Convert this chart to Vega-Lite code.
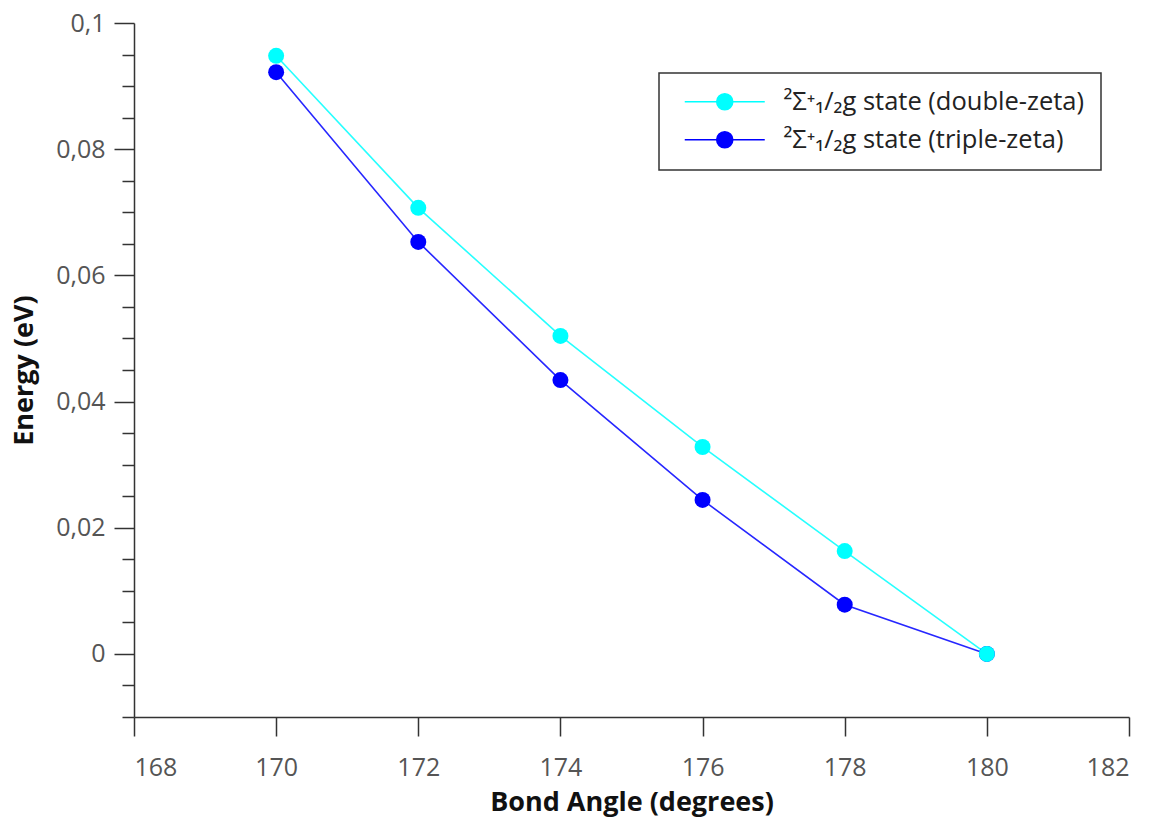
{
  "$schema": "https://vega.github.io/schema/vega-lite/v6.json",
  "autosize": {"type": "none"},
  "width": 995,
  "height": 694,
  "padding": {"left": 134, "top": 23, "right": 29, "bottom": 104},
  "background": "white",
  "config": {
    "view": {"stroke": null},
    "font": "Open Sans",
    "axis": {
      "labelFont": "Open Sans",
      "labelFontSize": 25,
      "labelColor": "#555555",
      "titleFont": "Open Sans",
      "titleFontSize": 27,
      "titleFontWeight": "bold",
      "titleColor": "#111111",
      "domainColor": "#333333",
      "domainWidth": 1.5,
      "tickColor": "#333333",
      "tickWidth": 1.5,
      "grid": false
    },
    "legend": {
      "labelFont": "Open Sans",
      "labelFontSize": 25.5,
      "labelColor": "#222222",
      "labelLimit": 400,
      "strokeWidth": 1.5
    }
  },
  "data": {
    "values": [
      {"angle": 170, "energy": 0.0948, "series": "²Σ⁺₁/₂g state (double-zeta)"},
      {"angle": 172, "energy": 0.0707, "series": "²Σ⁺₁/₂g state (double-zeta)"},
      {"angle": 174, "energy": 0.0504, "series": "²Σ⁺₁/₂g state (double-zeta)"},
      {"angle": 176, "energy": 0.0328, "series": "²Σ⁺₁/₂g state (double-zeta)"},
      {"angle": 178, "energy": 0.0163, "series": "²Σ⁺₁/₂g state (double-zeta)"},
      {"angle": 170, "energy": 0.0922, "series": "²Σ⁺₁/₂g state (triple-zeta)"},
      {"angle": 172, "energy": 0.0653, "series": "²Σ⁺₁/₂g state (triple-zeta)"},
      {"angle": 174, "energy": 0.0434, "series": "²Σ⁺₁/₂g state (triple-zeta)"},
      {"angle": 176, "energy": 0.0244, "series": "²Σ⁺₁/₂g state (triple-zeta)"},
      {"angle": 178, "energy": 0.0078, "series": "²Σ⁺₁/₂g state (triple-zeta)"},
      {"angle": 180, "energy": 0.0, "series": "²Σ⁺₁/₂g state (triple-zeta)"},
      {"angle": 180, "energy": 0.0, "series": "²Σ⁺₁/₂g state (double-zeta)"}
    ]
  },
  "resolve": {"axis": {"y": "independent"}},
  "layer": [
    {
      "mark": {"type": "line", "strokeWidth": 1.6, "strokeOpacity": 0.85},
      "encoding": {
        "x": {
          "field": "angle", "type": "quantitative",
          "scale": {"domain": [168, 182], "nice": false, "zero": false},
          "axis": {
            "values": [168, 170, 172, 174, 176, 178, 180, 182],
            "format": "d",
            "tickSize": 19, "labelPadding": 19,
            "title": "Bond Angle (degrees)", "titlePadding": 9
          }
        },
        "y": {
          "field": "energy", "type": "quantitative",
          "scale": {"domain": [-0.01, 0.1], "nice": false, "zero": false},
          "axis": {
            "orient": "left",
            "values": [0, 0.02, 0.04, 0.06, 0.08, 0.1],
            "labelExpr": "replace(format(datum.value, '~g'), '.', ',')",
            "tickSize": 20, "labelPadding": 9,
            "title": "Energy (eV)", "titlePadding": 17
          }
        },
        "color": {
          "field": "series", "type": "nominal",
          "scale": {
            "domain": ["²Σ⁺₁/₂g state (double-zeta)", "²Σ⁺₁/₂g state (triple-zeta)"],
            "range": ["#00ffff", "#0000ff"]
          },
          "legend": {
            "title": null,
            "orient": "none",
            "legendX": 525,
            "legendY": 50,
            "padding": 16,
            "strokeColor": "#333333",
            "symbolType": "M-4,0H4M0.8,0A0.8,0.8,0,1,1,-0.8,0A0.8,0.8,0,1,1,0.8,0Z",
            "symbolSize": 400,
            "symbolStrokeWidth": 1.6,
            "symbolOffset": 37,
            "labelOffset": 46,
            "rowPadding": 11,
            "encode": {
              "symbols": {
                "update": {
                  "fill": {"scale": "color", "field": "value"},
                  "stroke": {"scale": "color", "field": "value"},
                  "fillOpacity": {"value": 1}
                }
              }
            }
          }
        },
        "order": {"field": "angle"}
      }
    },
    {
      "mark": {"type": "point", "filled": true, "size": 256, "opacity": 1},
      "encoding": {
        "x": {"field": "angle", "type": "quantitative"},
        "y": {
          "field": "energy", "type": "quantitative",
          "axis": {
            "orient": "left",
            "values": [-0.01, -0.005, 0.005, 0.01, 0.015, 0.025, 0.03, 0.035, 0.045, 0.05, 0.055, 0.065, 0.07, 0.075, 0.085, 0.09, 0.095],
            "labels": false, "domain": false, "tickSize": 12, "title": null
          }
        },
        "color": {"field": "series", "type": "nominal"}
      }
    }
  ]
}
